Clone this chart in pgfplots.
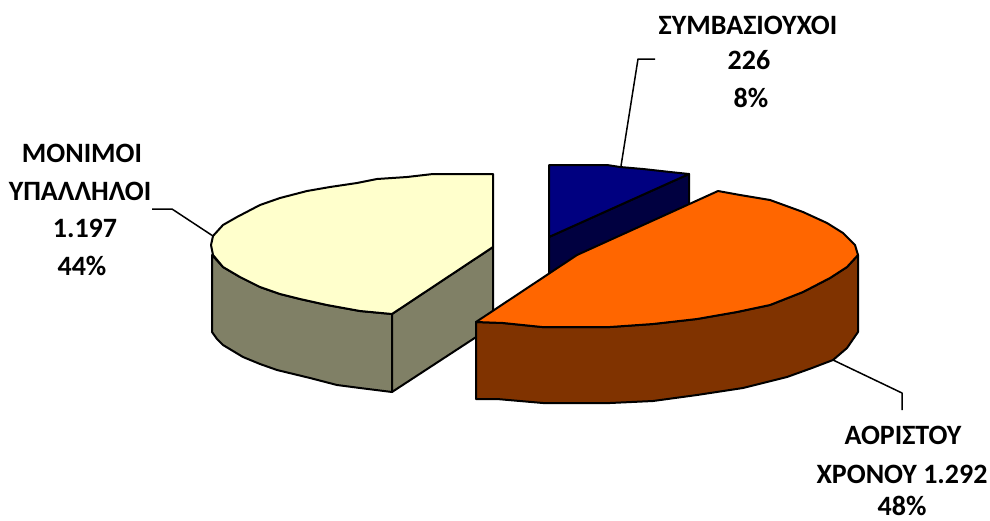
\documentclass[border=0pt]{standalone}
\usepackage{fontspec}
\setmainfont{Carlito}
\usepackage{pgfplots}
\pgfplotsset{compat=1.18}
\definecolor{ypal}{HTML}{FFFFCC}
\definecolor{ypalside}{HTML}{808066}
\definecolor{aor}{HTML}{FF6600}
\definecolor{aorside}{HTML}{803300}
\definecolor{symb}{HTML}{000080}
\definecolor{symbside}{HTML}{000040}
\pgfplotstableread{
x y
212 255
212 332
217 339
223 345
243 357
260 364
277 370
310 378
337 385
360 388
392 392
392 314
360 311
327 305
300 299
280 294
260 287
240 277
223 267
}\ypalfront
\pgfplotstableread{
x y
392 314
392 392
493 326
493 247
}\ypalcut
\pgfplotstableread{
x y
493 174
433 174
407 177
377 179
357 183
330 187
307 191
280 198
260 205
237 217
223 225
213 236
211 245
213 255
223 267
240 277
260 287
280 294
300 299
327 305
360 311
392 314
493 247
}\ypaltop
\pgfplotstableread{
x y
549 237
689 174
689 210
549 275
}\symbcut
\pgfplotstableread{
x y
549 165
607 165
620 167
643 169
670 172
689 174
549 237
}\symbtop
\pgfplotstableread{
x y
476 322
476 399
497 399
543 403
610 403
653 401
697 395
743 388
787 377
812 368
833 360
847 348
858 332
858 255
847 267
830 278
803 292
770 305
737 312
697 319
653 324
610 327
542 327
503 323
}\aorfront
\pgfplotstableread{
x y
476 322
503 323
542 327
610 327
653 324
697 319
737 312
770 305
803 292
830 278
847 267
858 255
855 245
843 233
827 223
803 212
770 200
740 195
718 191
577 255
}\aortop
\begin{document}
\begin{tikzpicture}
\path[use as bounding box] (0,0) rectangle (990pt,520pt);
\begin{axis}[
  at={(0,0)}, anchor=south west,
  scale only axis, width=990pt, height=520pt,
  xmin=0, xmax=990, ymin=0, ymax=520,
  y dir=reverse,
  hide axis,
  clip=false,
  no markers,
  every axis plot/.append style={draw=black, line width=2pt, line join=round},
]
% leader lines
\addplot[line width=1.5pt] coordinates {(152,209) (172,209) (213,236)};
\addplot[line width=1.5pt] coordinates {(655,59) (638,59) (621,166)};
\addplot[line width=1.5pt] coordinates {(833,360) (902,393) (902,410)};
% ypalliloi
\addplot[fill=ypalside] table {\ypalfront} -- cycle;
\addplot[fill=ypalside] table {\ypalcut} -- cycle;
\addplot[fill=ypal] table {\ypaltop} -- cycle;
% symvasiouxoi
\addplot[fill=symbside] table {\symbcut} -- cycle;
\addplot[fill=symb] table {\symbtop} -- cycle;
% aoristou
\addplot[fill=aorside] table {\aorfront} -- cycle;
\addplot[fill=aor] table {\aortop} -- cycle;
% labels
\tikzset{lab/.style={font=\fontsize{28}{28}\selectfont\bfseries, inner sep=0pt, anchor=center}}
\node[lab] at (axis cs:748,25) {ΣΥΜΒΑΣΙΟΥΧΟΙ};
\node[lab] at (axis cs:749,60) {226};
\node[lab] at (axis cs:751,98) {8\%};
\node[lab] at (axis cs:82,153) {ΜΟΝΙΜΟΙ};
\node[lab] at (axis cs:80,191) {ΥΠΑΛΛΗΛΟΙ};
\node[lab] at (axis cs:85,228) {1.197};
\node[lab] at (axis cs:82,266) {44\%};
\node[lab] at (axis cs:903,435) {ΑΟΡΙΣΤΟΥ};
\node[lab] at (axis cs:902,474) {ΧΡΟΝΟΥ 1.292};
\node[lab] at (axis cs:902,506) {48\%};
\end{axis}
\end{tikzpicture}
\end{document}
